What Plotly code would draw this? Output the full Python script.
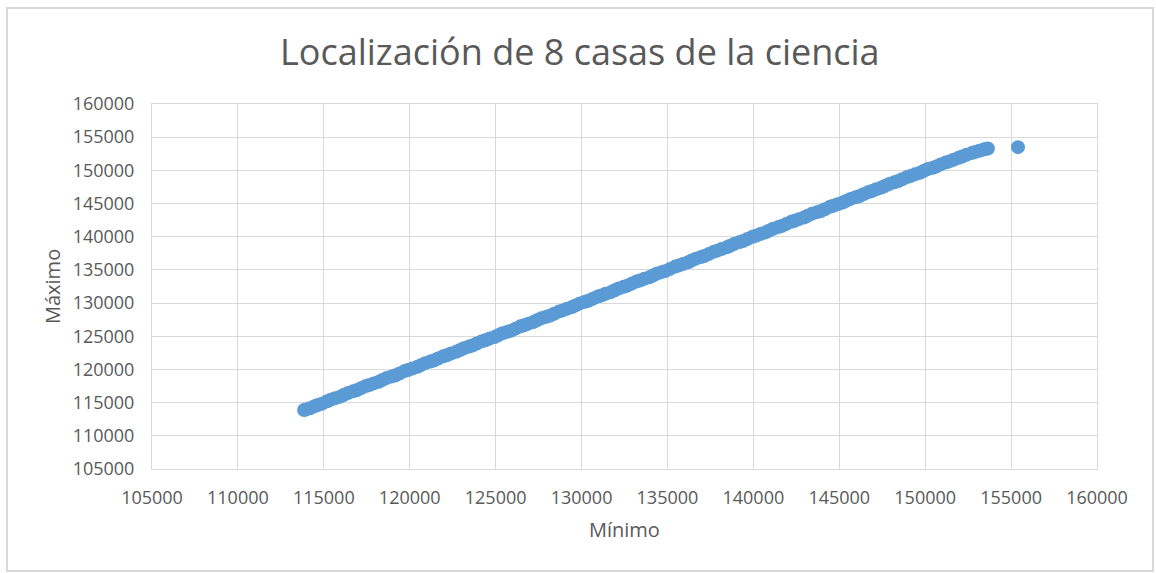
import plotly.graph_objects as go

# Data (Mínimo vs Máximo)
minimo = [
    113850, 113950, 114200, 114450, 114650, 114900, 115200, 115400, 115650, 115950,
    116150, 116400, 116700, 116900, 117150, 117450, 117650, 117900, 118200, 118400,
    118650, 118950, 119150, 119400, 119700, 119900, 120150, 120450, 120650, 120900,
    121200, 121400, 121650, 121950, 122150, 122400, 122700, 122900, 123150, 123450,
    123650, 123900, 124200, 124400, 124650, 124950, 125150, 125400, 125700, 125900,
    126150, 126450, 126650, 126900, 127200, 127400, 127650, 127950, 128150, 128400,
    128700, 128900, 129150, 129450, 129650, 129900, 130200, 130400, 130650, 130950,
    131150, 131400, 131700, 131900, 132150, 132450, 132650, 132900, 133200, 133400,
    133650, 133950, 134150, 134400, 134700, 134900, 135150, 135450, 135650, 135900,
    136200, 136400, 136650, 136950, 137150, 137400, 137700, 137900, 138150, 138450,
    138650, 138900, 139200, 139400, 139650, 139950, 140150, 140400, 140700, 140900,
    141150, 141450, 141650, 141900, 142200, 142400, 142650, 142950, 143150, 143400,
    143700, 143900, 144150, 144450, 144650, 144900, 145200, 145400, 145650, 145950,
    146150, 146400, 146700, 146900, 147150, 147450, 147650, 147900, 148200, 148400,
    148650, 148950, 149150, 149400, 149700, 149900, 150150, 150450, 150650, 150900,
    151200, 151400, 151650, 151950, 152150, 152400, 152700, 152900, 153150, 153400,
    153550, 153650, 155400,
]
maximo = [
    113900, 113950, 114150, 114450, 114650, 114850, 115200, 115450, 115650, 115900,
    116150, 116450, 116700, 116850, 117150, 117500, 117650, 117900, 118150, 118400,
    118700, 118950, 119100, 119400, 119750, 119900, 120150, 120400, 120650, 120950,
    121200, 121350, 121650, 122000, 122150, 122400, 122650, 122900, 123200, 123450,
    123600, 123900, 124250, 124400, 124650, 124900, 125150, 125450, 125700, 125850,
    126150, 126500, 126650, 126900, 127150, 127400, 127700, 127950, 128100, 128400,
    128750, 128900, 129150, 129400, 129650, 129950, 130200, 130350, 130650, 131000,
    131150, 131400, 131650, 131900, 132200, 132450, 132600, 132900, 133250, 133400,
    133650, 133900, 134150, 134450, 134700, 134850, 135150, 135500, 135650, 135900,
    136150, 136400, 136700, 136950, 137100, 137400, 137750, 137900, 138150, 138400,
    138650, 138950, 139200, 139350, 139650, 140000, 140150, 140400, 140650, 140900,
    141200, 141450, 141600, 141900, 142250, 142400, 142650, 142900, 143150, 143450,
    143700, 143850, 144150, 144500, 144650, 144900, 145150, 145400, 145700, 145950,
    146100, 146400, 146750, 146900, 147150, 147400, 147650, 147950, 148200, 148350,
    148650, 149000, 149150, 149400, 149650, 149900, 150200, 150400, 150600, 150900,
    151200, 151350, 151600, 151900, 152100, 152350, 152600, 152750, 152950, 153150,
    153250, 153300, 153500,
]

title_text = "Localización de 8 casas de la ciencia"
x_title = "Mínimo"
y_title = "Máximo"
axis_min, axis_max, axis_step = 105000, 160000, 5000

grid = "#d9d9d9"
text_col = "#595959"
font = "Open Sans"

fig = go.Figure()
fig.add_trace(go.Scatter(
    x=minimo, y=maximo, mode="markers",
    marker=dict(size=14, color="#5B9BD5", line=dict(width=0)),
    showlegend=False,
))

axis_common = dict(
    range=[axis_min, axis_max], dtick=axis_step, tick0=axis_min,
    tickformat="d", showgrid=True, gridcolor=grid, gridwidth=1,
    showline=True, linecolor=grid, linewidth=1, mirror=True,
    zeroline=False, ticks="", fixedrange=True,
    tickfont=dict(family=font, size=18, color=text_col),
)

fig.update_layout(
    width=1156, height=573,
    margin=dict(l=152, r=59, t=104, b=104),
    paper_bgcolor="white", plot_bgcolor="white",
    xaxis=dict(**axis_common, ticklabelstandoff=12),
    yaxis=dict(**axis_common, ticklabelstandoff=13),
    annotations=[
        dict(text=title_text, xref="paper", yref="paper", x=(580 - 152) / 945,
             y=(469 - 52) / 365, xanchor="center", yanchor="middle", showarrow=False,
             font=dict(family=font, size=36, color=text_col)),
        dict(text=x_title, xref="paper", yref="paper", x=0.5,
             y=(469 - 529) / 365, xanchor="center", yanchor="middle", showarrow=False,
             font=dict(family=font, size=20, color=text_col)),
        dict(text=y_title, xref="paper", yref="paper", x=(52 - 152) / 945,
             y=(469 - 287) / 365, xanchor="center", yanchor="middle", showarrow=False,
             textangle=-90, font=dict(family=font, size=20, color=text_col)),
    ],
    shapes=[
        dict(type="rect", xref="paper", yref="paper",
             x0=(7 - 152) / 945, x1=(1153 - 152) / 945,
             y0=(469 - 571) / 365, y1=(469 - 8) / 365,
             line=dict(color=grid, width=2), fillcolor="rgba(0,0,0,0)", layer="below"),
    ],
)

fig.write_html(
    "out.html",
    config={"displayModeBar": False},
    post_script="document.body.style.margin='0px';document.body.style.overflow='hidden';",
)
